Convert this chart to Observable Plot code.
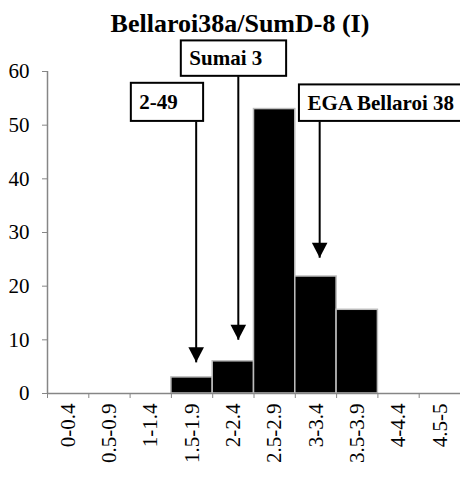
<!DOCTYPE html>
<html>
<head>
<meta charset="utf-8">
<script src="https://cdn.jsdelivr.net/npm/d3@7"></script>
<script src="https://cdn.jsdelivr.net/npm/@observablehq/plot@0.6"></script>
<style>
  html, body { margin: 0; padding: 0; background: #fff; }
  #title {
    font-family: "Liberation Serif", "Times New Roman", serif;
    font-weight: bold;
    font-size: 26px;
    line-height: 29px;
    height: 29px;
    padding-top: 9px;
    padding-left: 20px;
    text-align: center;
    color: #000;
  }
  svg { display: block; }
</style>
</head>
<body>
<div id="title">Bellaroi38a/SumD-8 (I)</div>
<div id="chart"></div>
<script>
// Score classes and the share of lines (%) in each class
const categories = ["0-0.4", "0.5-0.9", "1-1.4", "1.5-1.9", "2-2.4", "2.5-2.9", "3-3.4", "3.5-3.9", "4-4.4", "4.5-5"];
const values = [0, 0, 0, 3, 6, 53, 21.8, 15.6, 0, 0];
const yTicks = [0, 10, 20, 30, 40, 50, 60];

// Parent / check lines marked with call-out arrows (x in class units, y in %)
const calloutLabels = ["2-49", "Sumai 3", "EGA Bellaroi 38"];
const calloutArrowX = [3.6, 4.62, 6.59];
const calloutArrowTip = [5.8, 10.0, 25.3];
const calloutBoxLeft = [2.03, 3.24, 6.1];
const calloutBoxRight = [3.78, 5.79, 10.1];
const calloutBoxTop = [57.8, 65.7, 57.5];
const calloutBoxBottom = [50.7, 59.1, 50.7];

const bars = categories.map((c, i) => ({category: c, i, value: values[i]}));
const callouts = calloutLabels.map((label, k) => ({
  label,
  x: calloutArrowX[k],
  tip: calloutArrowTip[k],
  left: calloutBoxLeft[k],
  right: calloutBoxRight[k],
  top: calloutBoxTop[k],
  bottom: calloutBoxBottom[k]
}));

const serif = "'Liberation Serif', 'Times New Roman', serif";
const axisGray = "#868686";

const chart = Plot.plot({
  width: 460,
  height: 439,
  marginLeft: 47,
  marginRight: 0,
  marginTop: 33,
  marginBottom: 84,
  style: {fontFamily: serif, background: "white", overflow: "visible"},
  x: {type: "linear", domain: [0, categories.length], label: null},
  y: {domain: [0, 60], label: null},
  marks: [
    // histogram bars, one per class
    Plot.rectY(bars, {
      x1: "i",
      x2: d => d.i + 1,
      y: "value",
      fill: "black",
      stroke: "#bdbdbd",
      strokeWidth: 1.5
    }),
    // axis lines
    Plot.ruleX([0], {stroke: axisGray, strokeWidth: 1.5}),
    Plot.ruleY([0], {stroke: axisGray, strokeWidth: 1.5}),
    Plot.axisY({
      ticks: yTicks,
      tickSize: 5,
      tickPadding: 13,
      stroke: axisGray,
      fill: "black",
      fontSize: 21,
      fontFamily: serif,
      label: null
    }),
    // class boundary ticks
    Plot.axisX({
      ticks: d3.range(0, categories.length + 1),
      tickSize: 5,
      tickFormat: () => "",
      stroke: axisGray,
      label: null
    }),
    // class labels, centred in each class
    Plot.axisX({
      ticks: d3.range(categories.length).map(i => i + 0.5),
      tickSize: 0,
      tickPadding: 10,
      tickRotate: -90,
      tickFormat: v => categories[Math.floor(v)],
      fill: "black",
      fontSize: 21,
      fontFamily: serif,
      label: null
    }),
    // call-out arrows
    Plot.link(callouts, {
      x1: "x", x2: "x",
      y1: "bottom", y2: "tip",
      stroke: "black",
      strokeWidth: 2
    }),
    Plot.vector(callouts, {
      x: "x",
      y: "tip",
      shape: "spike",
      length: 15,
      r: 7.8,
      rotate: 180,
      anchor: "end",
      fill: "black",
      stroke: "none"
    }),
    // call-out boxes and their labels
    Plot.rect(callouts, {
      x1: "left", x2: "right",
      y1: "bottom", y2: "top",
      fill: "white",
      stroke: "black",
      strokeWidth: 2
    }),
    Plot.text(callouts, {
      x: "left",
      y: d => (d.top + d.bottom) / 2,
      text: "label",
      textAnchor: "start",
      dx: 8,
      fontSize: 21,
      fontWeight: "bold",
      fontFamily: serif,
      fill: "black"
    })
  ]
});

document.getElementById("chart").appendChild(chart);
</script>
</body>
</html>
